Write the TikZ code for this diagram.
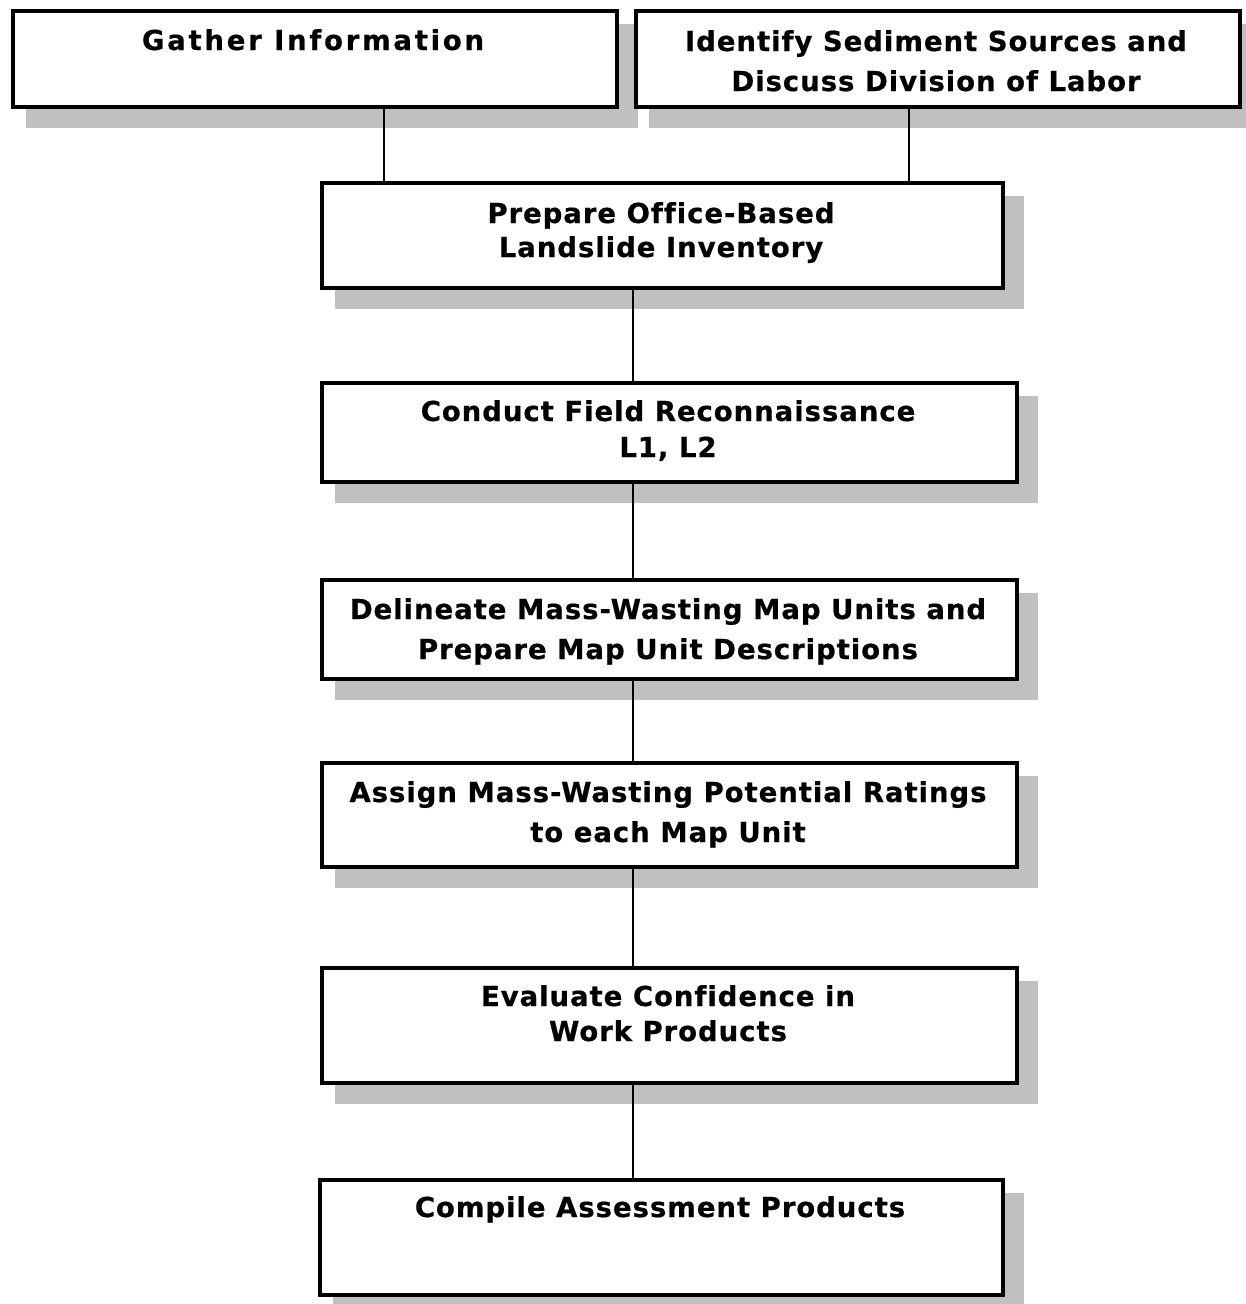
\documentclass[tikz,border=0pt]{standalone}
\usepackage{fontspec}
\newfontfamily\boxfont{DejaVu Sans Bold}[LetterSpace=3.5, Ligatures=NoCommon, FakeBold=0.6]
\newfontfamily\wideboxfont{DejaVu Sans Bold}[LetterSpace=10, Ligatures=NoCommon, FakeBold=0.6]
\usetikzlibrary{calc,backgrounds}
\definecolor{shadowgray}{HTML}{C0C0C0}
\begin{document}
\begin{tikzpicture}[x=1pt,y=-1pt,
  stepbox/.style={draw=black, line width=4pt, fill=white, rectangle,
    inner sep=0pt, anchor=north west},
  label/.style={anchor=base, inner sep=0pt, font=\boxfont\fontsize{27.5}{33}\selectfont},
  widelabel/.style={label, font=\wideboxfont\fontsize{27.5}{33}\selectfont},
  link/.style={draw=black, line width=2.5pt}]
\useasboundingbox (0,0) rectangle (1246,1304);

% drop shadow: the box outline shifted down and to the right
\newcommand{\boxshadow}[1]{%
  \fill[shadowgray] ([shift={(15pt,-15pt)}]#1.north west) rectangle ([shift={(19pt,-19pt)}]#1.south east);}

% boxes (north west corner, width, height)
\path (11,9)    node[stepbox, minimum width=604, minimum height=96]  (b1) {};
\path (634,9)   node[stepbox, minimum width=604, minimum height=96]  (b2) {};
\path (320,181) node[stepbox, minimum width=681, minimum height=105] (b3) {};
\path (320,381) node[stepbox, minimum width=695, minimum height=99]  (b4) {};
\path (320,578) node[stepbox, minimum width=695, minimum height=99]  (b5) {};
\path (320,761) node[stepbox, minimum width=695, minimum height=104] (b6) {};
\path (320,966) node[stepbox, minimum width=695, minimum height=115] (b7) {};
\path (318,1178) node[stepbox, minimum width=683, minimum height=115] (b8) {};

% shadows behind the boxes
\begin{scope}[on background layer]
\boxshadow{b1}\boxshadow{b2}\boxshadow{b3}\boxshadow{b4}
\boxshadow{b5}\boxshadow{b6}\boxshadow{b7}\boxshadow{b8}
\end{scope}

% connectors
\coordinate (cL) at (384,0);
\coordinate (cR) at (909,0);
\coordinate (cM) at (633,0);
\draw[link] (b1.south -| cL) -- (b3.north -| cL);
\draw[link] (b2.south -| cR) -- (b3.north -| cR);
\draw[link] (b3.south -| cM) -- (b4.north -| cM);
\draw[link] (b4.south -| cM) -- (b5.north -| cM);
\draw[link] (b5.south -| cM) -- (b6.north -| cM);
\draw[link] (b6.south -| cM) -- (b7.north -| cM);
\draw[link] (b7.south -| cM) -- (b8.north -| cM);

% labels
\node[widelabel] (t1) at (313,50)   {Gather Information};
\node[label]    (t2a) at (936,51)   {Identify Sediment Sources and};
\node[label]    (t2b) at (936,91)   {Discuss Division of Labor};
\node[label]    (t3a) at (661,223)  {Prepare Office-Based};
\node[label]    (t3b) at (661,257)  {Landslide Inventory};
\node[label]    (t4a) at (668,421)  {Conduct Field Reconnaissance};
\node[label]    (t4b) at (668,457)  {L1, L2};
\node[label]    (t5a) at (668,619)  {Delineate Mass-Wasting Map Units and};
\node[label]    (t5b) at (668,659)  {Prepare Map Unit Descriptions};
\node[label]    (t6a) at (668,802)  {Assign Mass-Wasting Potential Ratings};
\node[label]    (t6b) at (668,842)  {to each Map Unit};
\node[label]    (t7a) at (668,1006) {Evaluate Confidence in};
\node[label]    (t7b) at (668,1041) {Work Products};
\node[label]    (t8)  at (660,1217) {Compile Assessment Products};
\end{tikzpicture}
\end{document}
